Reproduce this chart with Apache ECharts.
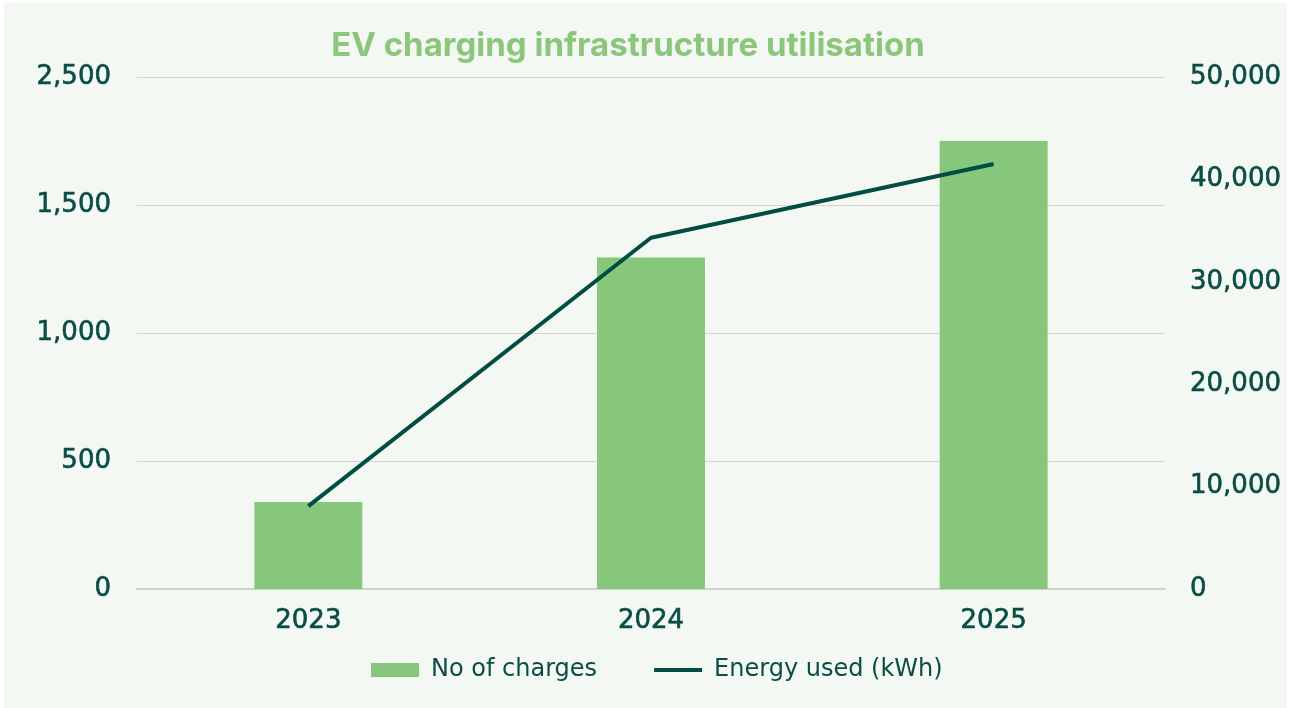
<!DOCTYPE html>
<html>
<head>
<meta charset="utf-8">
<script src="https://cdn.jsdelivr.net/npm/echarts@6/dist/echarts.min.js"></script>
<style>
    html, body { margin: 0; padding: 0; background: #ffffff; }
    #chart { position: absolute; left: 4px; top: 3px; width: 1283px; height: 705px; background: #f3f8f2; }
</style>
</head>
<body>
<div id="chart"></div>
<script>
const years = ['2023', '2024', '2025']
const charges = [340, 1295, 1750]
const energyKwh = [8100, 34300, 41500]
// left axis labels as printed on the original (top one reads 2,500)
const chargeTickLabels = ['0', '500', '1,000', '1,500', '2,500']
const energyTickLabels = ['0', '10,000', '20,000', '30,000', '40,000', '50,000']

const textColor = '#0b4d45'
const font = '"DejaVu Sans", sans-serif'

// a thin outline in the text colour makes DejaVu look closer to the medium weight used
const labelStyle = {
    color: textColor,
    fontSize: 26,
    fontFamily: font,
    textBorderColor: textColor,
    textBorderWidth: 0.6
}

const chart = echarts.init(document.getElementById('chart'))

const option = {
    animation: false,
    title: {
        text: 'EV charging infrastructure utilisation',
        left: 619,
        top: 38,
        textAlign: 'center',
        textVerticalAlign: 'middle',
        textStyle: {
            color: '#8cc67c',
            fontSize: 33,
            fontWeight: 'bold',
            fontFamily: 'Inter, sans-serif'
        }
    },
    legend: {
        bottom: 21,
        left: 362,
        itemGap: 57,
        itemWidth: 48,
        itemHeight: 14,
        symbolKeepAspect: true,
        textStyle: { color: textColor, fontSize: 24, fontFamily: font, padding: [0, 0, 0, 7] },
        data: [
            { name: 'No of charges', icon: 'rect' },
            { name: 'Energy used (kWh)', icon: 'path://M0,0 L48,0 L48,4 L0,4 Z' }
        ]
    },
    grid: {
        left: 133,
        right: 122,
        top: 74,
        bottom: 119
    },
    xAxis: {
        type: 'category',
        data: years,
        axisLine: { lineStyle: { color: '#cfd3cc', width: 2 } },
        axisTick: { show: false },
        axisLabel: Object.assign({}, labelStyle, { margin: 19 })
    },
    yAxis: [
        {
            type: 'value',
            min: 0,
            max: 2000,
            interval: 500,
            axisLine: { show: false },
            axisTick: { show: false },
            axisLabel: Object.assign({}, labelStyle, {
                margin: 26,
                formatter: (v) => chargeTickLabels[Math.round(v / 500)]
            }),
            splitLine: { lineStyle: { color: '#d3d6d0', width: 1 } }
        },
        {
            type: 'value',
            min: 0,
            max: 50000,
            interval: 10000,
            axisLine: { show: false },
            axisTick: { show: false },
            splitLine: { show: false },
            axisLabel: Object.assign({}, labelStyle, {
                margin: 25,
                formatter: (v) => energyTickLabels[Math.round(v / 10000)]
            })
        }
    ],
    series: [
        {
            name: 'No of charges',
            type: 'bar',
            data: charges,
            barWidth: '31.5%',
            itemStyle: { color: '#86c77c' }
        },
        {
            name: 'Energy used (kWh)',
            type: 'line',
            yAxisIndex: 1,
            data: energyKwh,
            symbol: 'none',
            lineStyle: { color: '#024d43', width: 4 },
            itemStyle: { color: '#024d43' }
        }
    ]
}

chart.setOption(option)
</script>
</body>
</html>
